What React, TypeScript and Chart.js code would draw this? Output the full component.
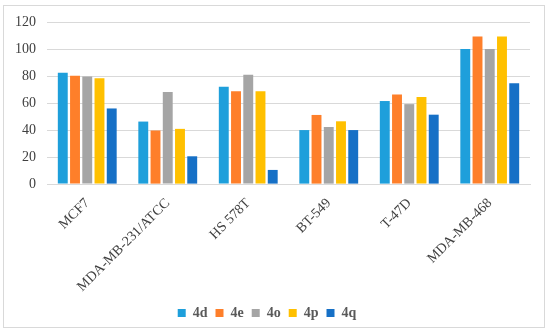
import React, { useEffect, useRef } from "react";
import { Chart, registerables } from "chart.js";

Chart.register(...registerables);

const categories = ["MCF7", "MDA-MB-231/ATCC", "HS 578T", "BT-549", "T-47D", "MDA-MB-468"];
const series4d = [82.5, 46.3, 72.0, 40.0, 61.5, 100.0];
const series4e = [80.3, 39.7, 68.8, 51.2, 66.3, 109.2];
const series4o = [79.6, 68.2, 81.0, 42.3, 59.2, 100.0];
const series4p = [78.3, 40.9, 68.8, 46.5, 64.4, 109.2];
const series4q = [56.0, 20.6, 10.5, 40.0, 51.4, 74.7];
const seriesNames = ["4d", "4e", "4o", "4p", "4q"];
const seriesColors = ["#1E9FDB", "#FE7F2A", "#A5A5A5", "#FFC000", "#1670C6"];
const yTicks = [0, 20, 40, 60, 80, 100, 120];

const FONT = "'Liberation Serif', 'Times New Roman', serif";

export default function App() {
  const ref = useRef<HTMLCanvasElement | null>(null);
  useEffect(() => {
    if (!ref.current) return;
    Chart.defaults.font.family = FONT;
    const all = [series4d, series4e, series4o, series4p, series4q];
    const chart = new Chart(ref.current, {
      type: "bar",
      data: {
        labels: categories,
        datasets: all.map((d, i) => ({
          label: seriesNames[i],
          data: d,
          backgroundColor: seriesColors[i],
          borderWidth: 0,
          categoryPercentage: 0.76,
          barPercentage: 0.81,
        })),
      },
      options: {
        responsive: false,
        animation: false,
        maintainAspectRatio: false,
        layout: { padding: { left: 4, right: 20, top: 22, bottom: 4 } },
        plugins: {
          legend: {
            position: "bottom",
            labels: {
              boxWidth: 8,
              boxHeight: 8,
              padding: 8,
              color: "#595959",
              font: { family: FONT, size: 14, weight: "bold" },
            },
          },
          tooltip: { enabled: false },
        },
        scales: {
          x: {
            grid: { display: false },
            border: { display: true, color: "#D9D9D9" },
            ticks: {
              minRotation: 45,
              maxRotation: 45,
              padding: 3,
              color: "#404040",
              font: { family: FONT, size: 14 },
            },
          },
          y: {
            min: 0,
            max: 120,
            afterBuildTicks: (axis: any) => {
              axis.ticks = yTicks.map((v) => ({ value: v }));
            },
            grid: { color: "#D9D9D9", drawTicks: false },
            border: { display: false },
            ticks: {
              padding: 11,
              color: "#404040",
              font: { family: FONT, size: 14 },
            },
          },
        },
      },
    });
    return () => chart.destroy();
  }, []);
  return (
    <div style={{ position: "fixed", left: 0, top: 0, width: 550, height: 334, background: "#fff" }}>
      <div
        style={{
          position: "absolute",
          left: 3,
          top: 5,
          width: 542,
          height: 323,
          border: "1px solid #D9D9D9",
          boxSizing: "border-box",
        }}
      />
      <canvas ref={ref} width={550} height={334} style={{ position: "absolute", left: 0, top: 0 }} />
    </div>
  );
}
